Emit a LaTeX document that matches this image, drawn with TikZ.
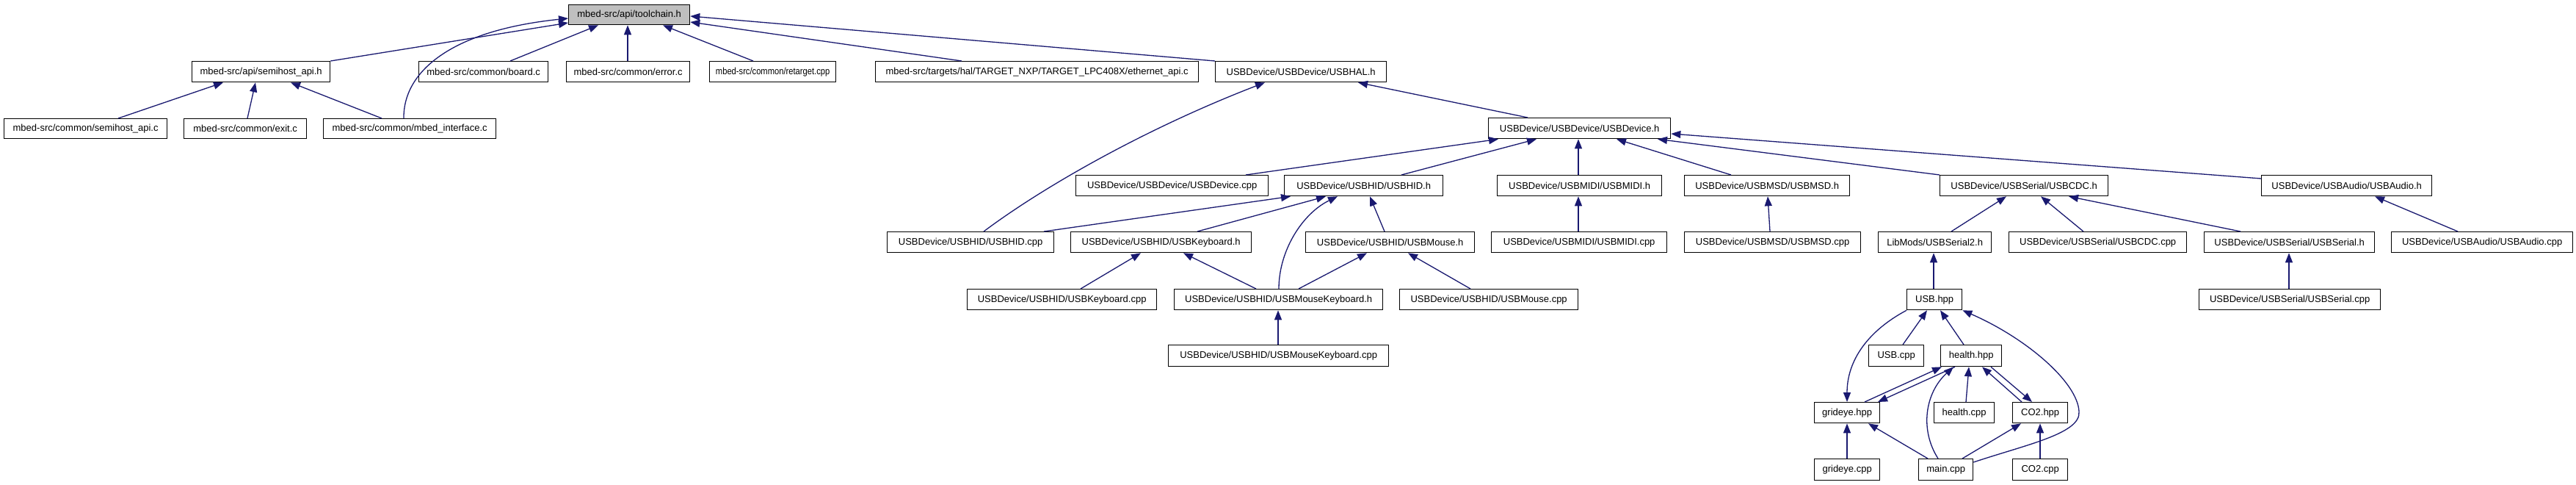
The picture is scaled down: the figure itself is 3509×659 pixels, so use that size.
\documentclass[tikz,border=0pt]{standalone}
\usepackage{fontspec}
\setmainfont{Liberation Sans}
\usetikzlibrary{arrows.meta}
\definecolor{midnight}{RGB}{25,25,112}
\definecolor{hdrgrey}{RGB}{191,191,191}
\begin{document}
\begin{tikzpicture}[x=1pt,y=-1pt,
  nd/.style={draw=black, line width=1.3pt, anchor=north west, inner sep=0pt,
    minimum height=28pt, font=\fontsize{13}{16}\selectfont},
  dep/.style={draw=midnight, line width=1.3pt, -{Triangle[length=13pt,width=10pt]}}]
\fill[white] (0,0) rectangle (3509,659);
\useasboundingbox (0,0) rectangle (3509,659);
% row 0
\node[nd, minimum width=165pt, minimum height=27pt, fill=hdrgrey] (T) at (774,6) {mbed-src/api/toolchain.h};
% row 1
\node[nd, minimum width=188pt] (SH) at (261,83) {mbed-src/api/semihost\_api.h};
\node[nd, minimum width=176pt] (board) at (570,83) {mbed-src/common/board.c};
\node[nd, minimum width=168pt] (error) at (771,83) {mbed-src/common/error.c};
\node[nd, minimum width=172pt] (retarget) at (966,83) {\scalebox{0.86}[1]{mbed-src/common/retarget.cpp}};
\node[nd, minimum width=440pt] (eth) at (1192,83) {mbed-src/targets/hal/TARGET\_NXP/TARGET\_LPC408X/ethernet\_api.c};
\node[nd, minimum width=233pt] (hal) at (1655,83) {USBDevice/USBDevice/USBHAL.h};
% row 2
\node[nd, minimum width=222pt, minimum height=27pt] (shc) at (5,161) {mbed-src/common/semihost\_api.c};
\node[nd, minimum width=167pt, minimum height=27pt] (exit) at (250,161) {mbed-src/common/exit.c};
\node[nd, minimum width=235pt, minimum height=27pt] (mbedif) at (440,161) {mbed-src/common/mbed\_interface.c};
\node[nd, minimum width=248pt] (dev) at (2027,160) {USBDevice/USBDevice/USBDevice.h};
% row 3
\node[nd, minimum width=262pt] (devcpp) at (1465,238) {USBDevice/USBDevice/USBDevice.cpp};
\node[nd, minimum width=216pt] (hid) at (1749,238) {USBDevice/USBHID/USBHID.h};
\node[nd, minimum width=224pt] (midi) at (2039,238) {USBDevice/USBMIDI/USBMIDI.h};
\node[nd, minimum width=225pt] (msd) at (2294,238) {USBDevice/USBMSD/USBMSD.h};
\node[nd, minimum width=229pt] (cdc) at (2642,238) {USBDevice/USBSerial/USBCDC.h};
\node[nd, minimum width=232pt] (audio) at (3080,238) {USBDevice/USBAudio/USBAudio.h};
% row 4
\node[nd, minimum width=227pt] (hidcpp) at (1208,315) {USBDevice/USBHID/USBHID.cpp};
\node[nd, minimum width=246pt] (kbd) at (1458,315) {USBDevice/USBHID/USBKeyboard.h};
\node[nd, minimum width=230pt] (mouse) at (1778,315) {USBDevice/USBHID/USBMouse.h};
\node[nd, minimum width=239pt] (midicpp) at (2031,315) {USBDevice/USBMIDI/USBMIDI.cpp};
\node[nd, minimum width=240pt] (msdcpp) at (2294,315) {USBDevice/USBMSD/USBMSD.cpp};
\node[nd, minimum width=154pt] (ser2) at (2558,315) {LibMods/USBSerial2.h};
\node[nd, minimum width=242pt] (cdccpp) at (2736,315) {USBDevice/USBSerial/USBCDC.cpp};
\node[nd, minimum width=232pt] (serh) at (3002,315) {USBDevice/USBSerial/USBSerial.h};
\node[nd, minimum width=247pt] (audiocpp) at (3257,315) {USBDevice/USBAudio/USBAudio.cpp};
% row 5
\node[nd, minimum width=258pt] (kbdcpp) at (1317,393) {USBDevice/USBHID/USBKeyboard.cpp};
\node[nd, minimum width=284pt] (mk) at (1599,393) {USBDevice/USBHID/USBMouseKeyboard.h};
\node[nd, minimum width=243pt] (mousecpp) at (1906,393) {USBDevice/USBHID/USBMouse.cpp};
\node[nd, minimum width=75pt] (usbhpp) at (2597,393) {USB.hpp};
\node[nd, minimum width=247pt] (sercpp) at (2995,393) {USBDevice/USBSerial/USBSerial.cpp};
% row 6
\node[nd, minimum width=300pt, minimum height=29pt] (mkcpp) at (1591,469) {USBDevice/USBHID/USBMouseKeyboard.cpp};
\node[nd, minimum width=75pt, minimum height=29pt] (usbcpp) at (2545,469) {USB.cpp};
\node[nd, minimum width=83pt, minimum height=29pt] (healthhpp) at (2643,469) {health.hpp};
% row 7
\node[nd, minimum width=89pt] (grid) at (2471,547) {grideye.hpp};
\node[nd, minimum width=82pt] (healthcpp) at (2634,547) {health.cpp};
\node[nd, minimum width=75pt] (co2) at (2741,547) {CO2.hpp};
% row 8
\node[nd, minimum width=89pt, minimum height=29pt] (gridcpp) at (2471,624) {grideye.cpp};
\node[nd, minimum width=74pt, minimum height=29pt] (main) at (2613,624) {main.cpp};
\node[nd, minimum width=75pt, minimum height=29pt] (co2cpp) at (2741,624) {CO2.cpp};
% edges
\draw[dep] (SH.north east) -- (T.west |- 0,31);
\draw[dep] (mbedif.north -| 550,0) .. controls (549,100) and (610,42) .. (T.west |- 0,25);
\draw[dep] (board.north -| 695,0) -- (T.south -| 815,0);
\draw[dep] (error.north -| 855,0) -- (T.south -| 855,0);
\draw[dep] (retarget.north -| 1026,0) -- (T.south -| 903,0);
\draw[dep] (eth.north -| 1310,0) -- (T.east |- 0,30);
\draw[dep] (hal.north west) -- (T.east |- 0,22);
\draw[dep] (shc.north -| 161,0) -- (SH.south -| 304,0);
\draw[dep] (exit.north -| 337,0) -- (SH.south -| 348,0);
\draw[dep] (mbedif.north -| 520,0) -- (SH.south -| 396,0);
\draw[dep] (hidcpp.north -| 1340,0) .. controls (1420,255) and (1560,175) .. (hal.south -| 1723,0);
\draw[dep] (dev.north -| 2081,0) -- (hal.south -| 1850,0);
\draw[dep] (devcpp.north -| 1697,0) -- (dev.south -| 2041,0);
\draw[dep] (hid.north -| 1909,0) -- (dev.south -| 2093,0);
\draw[dep] (midi.north -| 2150,0) -- (dev.south -| 2150,0);
\draw[dep] (msd.north -| 2358,0) -- (dev.south -| 2202,0);
\draw[dep] (cdc.north west) -- (dev.south -| 2258,0);
\draw[dep] (audio.west |- 0,243) -- (dev.east |- 0,182);
\draw[dep] (hidcpp.north -| 1422,0) -- (hid.south -| 1758,0);
\draw[dep] (kbd.north -| 1631,0) -- (hid.south -| 1806,0);
\draw[dep] (mk.north -| 1742,0) .. controls (1742,340) and (1775,290) .. (hid.south -| 1822,0);
\draw[dep] (mouse.north -| 1886,0) -- (hid.south -| 1866,0);
\draw[dep] (midicpp.north -| 2150,0) -- (midi.south -| 2150,0);
\draw[dep] (msdcpp.north -| 2411,0) -- (msd.south -| 2408,0);
\draw[dep] (ser2.north -| 2658,0) -- (cdc.south -| 2733,0);
\draw[dep] (cdccpp.north -| 2838,0) -- (cdc.south -| 2780,0);
\draw[dep] (serh.north -| 3052,0) -- (cdc.south -| 2818,0);
\draw[dep] (audiocpp.north -| 3348,0) -- (audio.south -| 3235,0);
\draw[dep] (kbdcpp.north -| 1472,0) -- (kbd.south -| 1554,0);
\draw[dep] (mk.north -| 1711,0) -- (kbd.south -| 1612,0);
\draw[dep] (mk.north -| 1769,0) -- (mouse.south -| 1862,0);
\draw[dep] (mousecpp.north -| 2003,0) -- (mouse.south -| 1918,0);
\draw[dep] (mkcpp.north -| 1741,0) -- (mk.south -| 1741,0);
\draw[dep] (sercpp.north -| 3118,0) -- (serh.south -| 3118,0);
\draw[dep] (usbhpp.north -| 2634,0) -- (ser2.south -| 2634,0);
\draw[dep] (usbhpp.south west) .. controls (2545,450) and (2516,490) .. (grid.north -| 2516,0);
\draw[dep] (usbcpp.north -| 2592,0) -- (usbhpp.south -| 2625,0);
\draw[dep] (healthhpp.north -| 2675,0) -- (usbhpp.south -| 2643,0);
\draw[dep] (main.east |- 0,629) .. controls (2760,605) and (2835,590) .. (2832,560) .. controls (2830,520) and (2760,460) .. (usbhpp.south east);
\draw[dep] (grid.north -| 2540,0) -- (healthhpp.south -| 2645,0);
\draw[dep] (healthhpp.south -| 2663,0) -- (grid.north -| 2558,0);
\draw[dep] (main.north -| 2640,0) .. controls (2615,585) and (2622,535) .. (healthhpp.south -| 2661,0);
\draw[dep] (healthcpp.north -| 2678,0) -- (healthhpp.south -| 2682,0);
\draw[dep] (co2.north -| 2754,0) -- (healthhpp.south -| 2700,0);
\draw[dep] (healthhpp.south -| 2712,0) -- (co2.north -| 2768,0);
\draw[dep] (gridcpp.north -| 2516,0) -- (grid.south -| 2516,0);
\draw[dep] (main.north -| 2626,0) -- (grid.south -| 2545,0);
\draw[dep] (main.north -| 2673,0) -- (co2.south -| 2753,0);
\draw[dep] (co2cpp.north -| 2779,0) -- (co2.south -| 2779,0);
\end{tikzpicture}
\end{document}
